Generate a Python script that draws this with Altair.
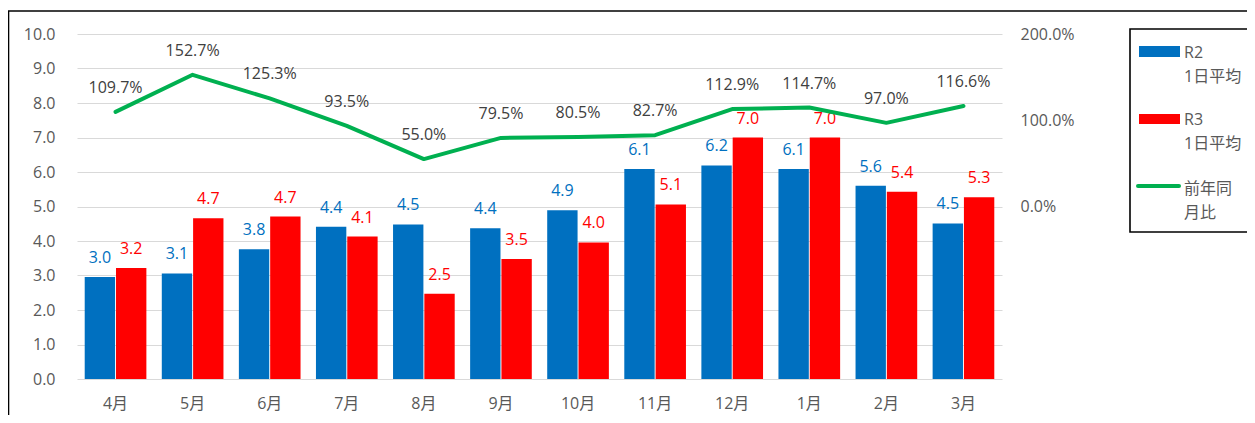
import altair as alt
import pandas as pd

months = ["4月", "5月", "6月", "7月", "8月", "9月", "10月", "11月", "12月", "1月", "2月", "3月"]
r2_avg = [2.96, 3.06, 3.76, 4.41, 4.48, 4.37, 4.89, 6.09, 6.19, 6.09, 5.60, 4.51]
r3_avg = [3.22, 4.66, 4.71, 4.13, 2.47, 3.48, 3.96, 5.06, 7.00, 7.00, 5.43, 5.27]
yoy_ratio = [1.097, 1.527, 1.253, 0.935, 0.550, 0.795, 0.805, 0.827, 1.129, 1.147, 0.970, 1.166]
series_names = ["R2", "R3"]
series_colors = ["#0070C0", "#FF0000"]
line_color = "#00B050"
left_ticks = [0, 1, 2, 3, 4, 5, 6, 7, 8, 9, 10]
right_ticks = [0, 1, 2]
legend_r2 = ["R2", "1日平均"]
legend_r3 = ["R3", "1日平均"]
legend_yoy = ["前年同", "月比"]

FONT = "Open Sans, Noto Sans CJK JP, sans-serif"
GREY = "#595959"

bars_df = pd.DataFrame({
    "month": months * 2,
    "series": ["R2"] * len(months) + ["R3"] * len(months),
    "value": r2_avg + r3_avg,
})
line_df = pd.DataFrame({"month": months, "ratio": yoy_ratio})
one = pd.DataFrame({"k": [0]})

x_scale = alt.Scale(domain=months, paddingInner=0.2, paddingOuter=0.1)
color_scale = alt.Scale(domain=series_names, range=series_colors)
off_scale = alt.Scale(domain=series_names, paddingInner=0.03)
y_left = alt.Scale(domain=[0, 10], nice=False, zero=True)
y_right = alt.Scale(domain=[-2, 2], nice=False, zero=False)

x_axis = alt.Axis(title=None, labelAngle=0, ticks=False, domain=False, labelPadding=16,
                  labelFontSize=16, labelColor=GREY, labelFont=FONT, grid=False)
left_axis = alt.Axis(title=None, values=left_ticks, format=".1f", grid=True, gridColor="#D9D9D9",
                     gridWidth=1.2, ticks=False, tickSize=0, domain=False, labelPadding=22,
                     labelFontSize=16, labelColor=GREY, labelFont=FONT)
right_axis = alt.Axis(title=None, orient="right", values=right_ticks, format=".1%", grid=False,
                      ticks=False, tickSize=0, domain=False, labelPadding=18, labelFontSize=16,
                      labelColor=GREY, labelFont=FONT)

X = alt.X("month:N", scale=x_scale, sort=months, axis=x_axis)
XO = alt.XOffset("series:N", scale=off_scale, sort=series_names)

bars = alt.Chart(bars_df).mark_bar().encode(
    x=X, xOffset=XO,
    y=alt.Y("value:Q", scale=y_left, axis=left_axis),
    color=alt.Color("series:N", scale=color_scale, legend=None),
)

bar_labels = alt.Chart(bars_df).mark_text(baseline="alphabetic", dy=-14, fontSize=16, font=FONT).encode(
    x=X, xOffset=XO,
    y=alt.Y("value:Q", scale=y_left, axis=left_axis),
    text=alt.Text("value:Q", format=".1f"),
    color=alt.Color("series:N", scale=color_scale, legend=None),
)

# legend & frame (layout elements)
legend_box = alt.Chart(one).mark_rect(fill=None, stroke="black", strokeWidth=1.6).encode(
    x=alt.value(1053), x2=alt.value(1200), y=alt.value(-5), y2=alt.value(198))
leg_r2 = alt.Chart(one).mark_rect(color=series_colors[0]).encode(
    x=alt.value(1062), x2=alt.value(1103), y=alt.value(12), y2=alt.value(23))
leg_r3 = alt.Chart(one).mark_rect(color=series_colors[1]).encode(
    x=alt.value(1062), x2=alt.value(1103), y=alt.value(80), y2=alt.value(90))
leg_line = alt.Chart(one).mark_rule(color=line_color, strokeWidth=4, strokeCap="round").encode(
    x=alt.value(1061), x2=alt.value(1102), y=alt.value(152))
def leg_text(lines, y):
    return alt.Chart(one).mark_text(align="left", baseline="alphabetic", fontSize=16, font=FONT,
                                    color=GREY, lineHeight=24).encode(
        x=alt.value(1107), y=alt.value(y), text=alt.value(lines))
frame_top = alt.Chart(one).mark_rule(color="black", strokeWidth=1.6).encode(
    x=alt.value(-69), x2=alt.value(1250), y=alt.value(-23))
frame_left = alt.Chart(one).mark_rule(color="black", strokeWidth=1.6).encode(
    x=alt.value(-68.5), y=alt.value(-23), y2=alt.value(400))

left_group = alt.layer(bars, bar_labels, legend_box, leg_r2, leg_r3, leg_line,
                       leg_text(legend_r2, 23.5), leg_text(legend_r3, 90.5),
                       leg_text(legend_yoy, 159.5), frame_top, frame_left)

line = alt.Chart(line_df).mark_line(color=line_color, strokeWidth=4, strokeCap="round",
                                    strokeJoin="round").encode(
    x=X,
    y=alt.Y("ratio:Q", scale=y_right, axis=right_axis),
)
line_labels = alt.Chart(line_df).mark_text(baseline="alphabetic", dy=-19, fontSize=16,
                                           font=FONT, color="#404040").encode(
    x=X,
    y=alt.Y("ratio:Q", scale=y_right, axis=right_axis),
    text=alt.Text("ratio:Q", format=".1%"),
)
right_group = alt.layer(line, line_labels)

chart = alt.layer(left_group, right_group).resolve_scale(y="independent").properties(
    width=925, height=345,
    padding={"left": 69, "top": 26, "right": 245, "bottom": 36},
    autosize=alt.AutoSizeParams(type="none"),
).configure_view(stroke=None)

chart.save("out.html", embed_options={"renderer": "svg", "actions": False})
